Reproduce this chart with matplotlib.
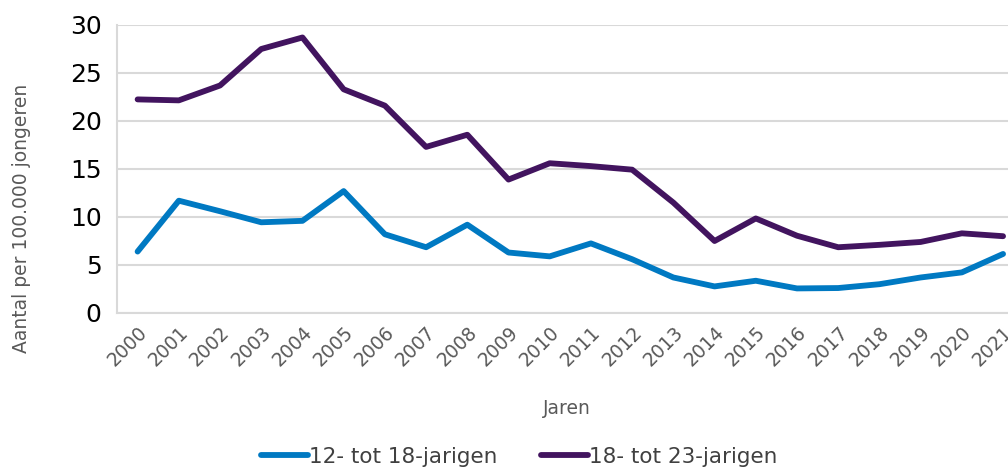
import matplotlib.pyplot as plt
import numpy as np

# data
years = [str(y) for y in range(2000, 2022)]
age_12_18 = [6.4, 11.7, 10.6, 9.45, 9.6, 12.7, 8.2, 6.85, 9.2, 6.3, 5.9,
             7.25, 5.6, 3.7, 2.77, 3.36, 2.56, 2.6, 3.0, 3.7, 4.23, 6.15]
age_18_23 = [22.25, 22.15, 23.7, 27.5, 28.7, 23.3, 21.6, 17.3, 18.57, 13.9, 15.6,
             15.3, 14.93, 11.5, 7.5, 9.85, 8.05, 6.85, 7.1, 7.4, 8.3, 8.0]
labels = ["12- tot 18-jarigen", "18- tot 23-jarigen"]

blue = "#0079C2"
purple = "#42145F"
grey = "#595959"

fig = plt.figure(figsize=(10.08, 4.72), dpi=100)
ax = fig.add_axes([117 / 1008, 1 - 313 / 472, 1 - 117 / 1008, (313 - 25) / 472])

x = np.arange(len(years))
ax.plot(x, age_12_18, color=blue, lw=4.2, label=labels[0], solid_capstyle="round")
ax.plot(x, age_18_23, color=purple, lw=4.2, label=labels[1], solid_capstyle="round")

ax.set_ylim(0, 30)
ax.set_yticks(range(0, 31, 5))
ax.set_xlim(-0.5, 21.12)
ax.set_xticks(x)
ax.set_xticklabels(years, rotation=45, ha="right", rotation_mode="anchor",
                   fontsize=13.5, color=grey)
ax.tick_params(axis="y", labelsize=18, colors="black", length=0, pad=11)
ax.tick_params(axis="x", length=0, pad=7)

ax.grid(axis="y", color="#D9D9D9", lw=1.5)
ax.set_axisbelow(True)
for s in ["top", "right"]:
    ax.spines[s].set_visible(False)
for s in ["left", "bottom"]:
    ax.spines[s].set_color("#D9D9D9")
    ax.spines[s].set_linewidth(1.5)

ax.set_ylabel("Aantal per 100.000 jongeren", fontsize=13.5, color=grey)
ax.yaxis.set_label_coords(-0.097, 0.33)
ax.set_xlabel("Jaren", fontsize=13.5, color=grey)
ax.xaxis.set_label_coords(0.505, -0.297)

fig.legend(loc="lower center", bbox_to_anchor=(0.515, -0.03), ncol=2, frameon=False,
           fontsize=15.5, handlelength=2.2, columnspacing=2.0, handletextpad=0.05,
           labelcolor="#404040")

fig.savefig("out.png", dpi=100)
